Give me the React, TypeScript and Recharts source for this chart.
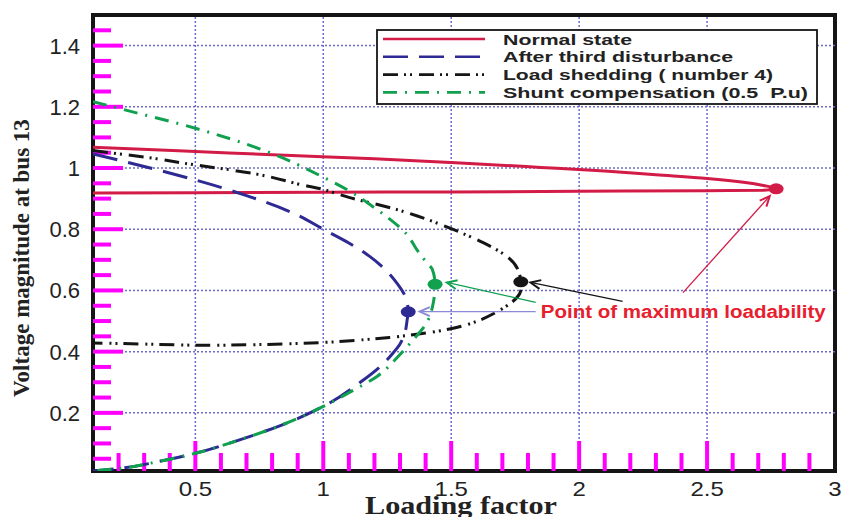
import React from "react";
import {
  LineChart,
  Line,
  XAxis,
  YAxis,
  ReferenceLine,
  ReferenceDot,
  ReferenceArea,
  Label,
} from "recharts";

// Loading factor / voltage pairs (upper branch -> nose -> lower branch)
const normalX = [0.1, 0.5, 0.9, 1.2, 1.5, 1.85, 2.1, 2.3, 2.5, 2.65, 2.72, 2.77, 2.72, 2.5, 2.0, 1.5, 1.0, 0.5, 0.1];
const normalV = [1.068, 1.054, 1.04, 1.03, 1.018, 1.002, 0.99, 0.978, 0.966, 0.953, 0.943, 0.932, 0.927, 0.926, 0.924, 0.922, 0.921, 0.919, 0.918];

const afterX = [0.1, 0.3, 0.5, 0.7, 0.9, 1.0, 1.1, 1.18, 1.24, 1.287, 1.32, 1.332, 1.328, 1.32, 1.3, 1.267, 1.23, 1.15, 1.0, 0.84, 0.67, 0.5, 0.35, 0.21, 0.1];
const afterV = [1.046, 1.005, 0.961, 0.91, 0.846, 0.8, 0.755, 0.712, 0.67, 0.625, 0.581, 0.53, 0.505, 0.465, 0.425, 0.39, 0.357, 0.303, 0.221, 0.161, 0.111, 0.068, 0.04, 0.019, 0.01];

const shedX = [0.1, 0.35, 0.5, 0.74, 0.9, 1.0, 1.1, 1.235, 1.365, 1.5, 1.625, 1.716, 1.76, 1.772, 1.768, 1.716, 1.6, 1.45, 1.3, 1.2, 1.0, 0.74, 0.5, 0.29, 0.1];
const shedV = [1.057, 1.03, 1.01, 0.98, 0.948, 0.93, 0.904, 0.876, 0.844, 0.802, 0.756, 0.712, 0.67, 0.628, 0.59, 0.549, 0.499, 0.467, 0.45, 0.442, 0.43, 0.423, 0.421, 0.425, 0.428];

const shuntX = [0.1, 0.22, 0.5, 0.77, 1.0, 1.1, 1.19, 1.26, 1.326, 1.365, 1.404, 1.426, 1.437, 1.43, 1.404, 1.34, 1.287, 1.21, 1.12, 1.0, 0.84, 0.67, 0.5, 0.35, 0.21, 0.1];
const shuntV = [1.217, 1.191, 1.13, 1.057, 0.97, 0.926, 0.876, 0.833, 0.784, 0.734, 0.691, 0.669, 0.62, 0.56, 0.494, 0.428, 0.379, 0.319, 0.275, 0.221, 0.161, 0.111, 0.068, 0.04, 0.019, 0.01];

// maximum loadability points (normal, after, shedding, shunt)
const noseX = [2.77, 1.332, 1.772, 1.437];
const noseV = [0.932, 0.53, 0.628, 0.62];

// annotation arrows: start (near the text) -> end (near the nose point)
const arrowFromX = [2.406, 1.83, 2.17, 1.83];
const arrowFromV = [0.593, 0.531, 0.564, 0.561];
const arrowToX = [2.745, 1.377, 1.81, 1.483];
const arrowToV = [0.908, 0.531, 0.626, 0.626];

const xMajor = [0.5, 1, 1.5, 2, 2.5, 3];
const xTicks = [0.2, 0.3, 0.4, 0.5, 0.6, 0.7, 0.8, 0.9, 1, 1.1, 1.2, 1.3, 1.4, 1.5, 1.6, 1.7, 1.8, 1.9, 2, 2.1, 2.2, 2.3, 2.4, 2.5, 2.6, 2.7, 2.8, 2.9];
const yMajor = [0.2, 0.4, 0.6, 0.8, 1, 1.2, 1.4];
const yTicks = [0.05, 0.1, 0.15, 0.2, 0.25, 0.3, 0.35, 0.4, 0.45, 0.5, 0.55, 0.6, 0.65, 0.7, 0.75, 0.8, 0.85, 0.9, 0.95, 1, 1.05, 1.1, 1.15, 1.2, 1.25, 1.3, 1.35, 1.4, 1.45];
const gridX = [0.5, 1, 1.5, 2, 2.5];
const gridY = [0.2, 0.4, 0.6, 0.8, 1, 1.2, 1.4];

const X_MIN = 0.1;
const X_MAX = 3;
const V_MIN = 0.01;
const V_MAX = 1.5;

const seriesNames = [
  "Normal state",
  "After third disturbance",
  "Load shedding ( number 4)",
  "Shunt compensation (0.5  P.u)",
];

const RED = "#d31b47";
const BLUE = "#2e2a93";
const BLACK = "#151515";
const GREEN = "#10a04e";
const seriesColors = [RED, BLUE, BLACK, GREEN];
const seriesDash = ["", "25 11", "15 6 2 4 2 7", "14 8 2 8"];
const legendTextLen = [129, 230, 270, 305];
const arrowColors = [RED, "#8a8ad6", BLACK, GREEN];

const sans = "'Liberation Sans', Arial, sans-serif";
const serif = "'Liberation Serif', 'Times New Roman', serif";

const toPoints = (xs: number[], vs: number[]) => xs.map((x, i) => ({ x, v: vs[i] }));

const isMajor = (v: number, majors: number[]) => majors.some((m) => Math.abs(m - v) < 1e-9);

function XTick(props: any) {
  const { x, y, payload } = props;
  return (
    <text
      transform={`translate(${x},${y + 25}) scale(1.2,1)`}
      textAnchor="middle"
      fontFamily={sans}
      fontSize={20}
      fill="#222"
    >
      {String(payload.value)}
    </text>
  );
}

function YTick(props: any) {
  const { x, y, payload } = props;
  return (
    <text x={x - 13} y={y + 8} textAnchor="end" fontFamily={sans} fontSize={22} fill="#222">
      {String(payload.value)}
    </text>
  );
}

// inward tick stubs at the bottom / left edge of the plot
const xStub = (major: boolean) => (p: any) => {
  const bottom = Math.max(p.y1, p.y2);
  return (
    <line x1={p.x1} x2={p.x1} y1={bottom} y2={bottom - (major ? 30 : 18)} stroke="#ff00ff" strokeWidth={4} />
  );
};
const yStub = (major: boolean) => (p: any) => {
  const left = Math.min(p.x1, p.x2);
  return (
    <line x1={left} x2={left + (major ? 30 : 18)} y1={p.y1} y2={p.y1} stroke="#ff00ff" strokeWidth={4} />
  );
};

const arrowShape = (color: string) => (props: any) => {
  const { x1, y1, x2, y2 } = props;
  const ang = Math.atan2(y2 - y1, x2 - x1);
  const len = 11;
  const spread = 0.42;
  const ax = x2 - len * Math.cos(ang - spread);
  const ay = y2 - len * Math.sin(ang - spread);
  const bx = x2 - len * Math.cos(ang + spread);
  const by = y2 - len * Math.sin(ang + spread);
  return (
    <g>
      <line x1={x1} y1={y1} x2={x2} y2={y2} stroke={color} strokeWidth={1.3} />
      <polyline points={`${ax},${ay} ${x2},${y2} ${bx},${by}`} fill="none" stroke={color} strokeWidth={2} />
    </g>
  );
};

function LegendBox() {
  return (
    <svg
      width={442}
      height={76}
      style={{ position: "absolute", left: 376, top: 29 }}
    >
      <rect x={1} y={1} width={440} height={74} fill="#fff" stroke={BLACK} strokeWidth={1.8} />
      {seriesNames.map((name, i) => {
        const cy = 10 + i * 17.8;
        return (
          <g key={name}>
            <line
              x1={7}
              x2={109}
              y1={cy}
              y2={cy}
              stroke={seriesColors[i]}
              strokeWidth={2.6}
              strokeDasharray={seriesDash[i] || undefined}
            />
            <text
              x={127}
              y={cy + 5.5}
              fontFamily={sans}
              fontWeight="bold"
              fontSize={15}
              fill="#222"
              textLength={legendTextLen[i]}
              lengthAdjust="spacingAndGlyphs"
              style={{ whiteSpace: "pre" }}
            >
              {name}
            </text>
          </g>
        );
      })}
    </svg>
  );
}

export default function App() {
  const curves = [
    { data: toPoints(normalX, normalV), type: "monotoneY" },
    { data: toPoints(afterX, afterV), type: "monotoneY" },
    { data: toPoints(shedX, shedV), type: "natural" },
    { data: toPoints(shuntX, shuntV), type: "monotoneY" },
  ];

  return (
    <div style={{ position: "absolute", left: 0, top: 0, width: 842, height: 517, background: "#fff" }}>
      <LineChart width={842} height={517} margin={{ top: 15, right: 7, left: 33, bottom: 0 }}>
        <XAxis
          dataKey="x"
          type="number"
          domain={[X_MIN, X_MAX]}
          allowDataOverflow
          ticks={xMajor}
          interval={0}
          tickSize={0}
          tickMargin={0}
          axisLine={false}
          tickLine={false}
          tick={XTick}
          height={46}
        >
          <Label
            content={(p: any) => {
              const vb = p.viewBox;
              return (
                <text
                  x={vb.x + vb.width / 2 - 3}
                  y={vb.y + 43}
                  textAnchor="middle"
                  fontFamily={serif}
                  fontWeight="bold"
                  fontSize={25}
                  fill="#222"
                  textLength={192}
                  lengthAdjust="spacingAndGlyphs"
                >
                  Loading factor
                </text>
              );
            }}
          />
        </XAxis>
        <YAxis
          type="number"
          domain={[V_MIN, V_MAX]}
          allowDataOverflow
          ticks={yMajor}
          interval={0}
          tickSize={0}
          tickMargin={0}
          axisLine={false}
          tickLine={false}
          tick={YTick}
          width={60}
        >
          <Label
            content={(p: any) => {
              const vb = p.viewBox;
              const cx = vb.x - 11;
              const cy = vb.y + vb.height / 2 + 15;
              return (
                <text
                  transform={`translate(${cx},${cy}) rotate(-90)`}
                  textAnchor="middle"
                  dy={7}
                  fontFamily={serif}
                  fontWeight="bold"
                  fontSize={23}
                  fill="#222"
                >
                  Voltage magnitude at bus 13
                </text>
              );
            }}
          />
        </YAxis>

        {gridX.map((g) => (
          <ReferenceLine key={`gx${g}`} x={g} stroke="#6c6cc8" strokeWidth={1.5} strokeDasharray="2 2" />
        ))}
        {gridY.map((g) => (
          <ReferenceLine key={`gy${g}`} y={g} stroke="#6c6cc8" strokeWidth={1.5} strokeDasharray="2 2" />
        ))}

        {xTicks.map((t) => (
          <ReferenceLine key={`tx${t}`} x={t} shape={xStub(isMajor(t, xMajor))} />
        ))}
        {yTicks.map((t) => (
          <ReferenceLine key={`ty${t}`} y={t} shape={yStub(isMajor(t, yMajor))} />
        ))}

        {curves.map((c, i) => (
          <Line
            key={seriesNames[i]}
            name={seriesNames[i]}
            data={c.data}
            dataKey="v"
            type={c.type as any}
            stroke={seriesColors[i]}
            strokeWidth={3}
            strokeDasharray={seriesDash[i] || undefined}
            dot={false}
            activeDot={false}
            isAnimationActive={false}
          />
        ))}

        {arrowFromX.map((fx, i) => (
          <ReferenceLine
            key={`arrow${i}`}
            segment={[
              { x: fx, y: arrowFromV[i] },
              { x: arrowToX[i], y: arrowToV[i] },
            ]}
            shape={arrowShape(arrowColors[i])}
          />
        ))}

        {noseX.map((nx, i) => (
          <ReferenceDot
            key={`nose${i}`}
            x={nx}
            y={noseV[i]}
            shape={(p: any) => <ellipse cx={p.cx} cy={p.cy} rx={7.5} ry={5.5} fill={seriesColors[i]} />}
          />
        ))}

        <ReferenceDot
          x={1.85}
          y={0.531}
          shape={(p: any) => (
            <text
              x={p.cx}
              y={p.cy + 6.5}
              fontFamily={sans}
              fontWeight="bold"
              fontSize={18}
              fill="#e8202e"
              textLength={285}
              lengthAdjust="spacingAndGlyphs"
            >
              Point of maximum loadability
            </text>
          )}
        />

        <ReferenceArea
          x1={X_MIN}
          x2={X_MAX}
          y1={V_MIN}
          y2={V_MAX}
          fill="none"
          stroke={BLACK}
          strokeWidth={4}
          ifOverflow="visible"
        />
      </LineChart>
      <LegendBox />
    </div>
  );
}
